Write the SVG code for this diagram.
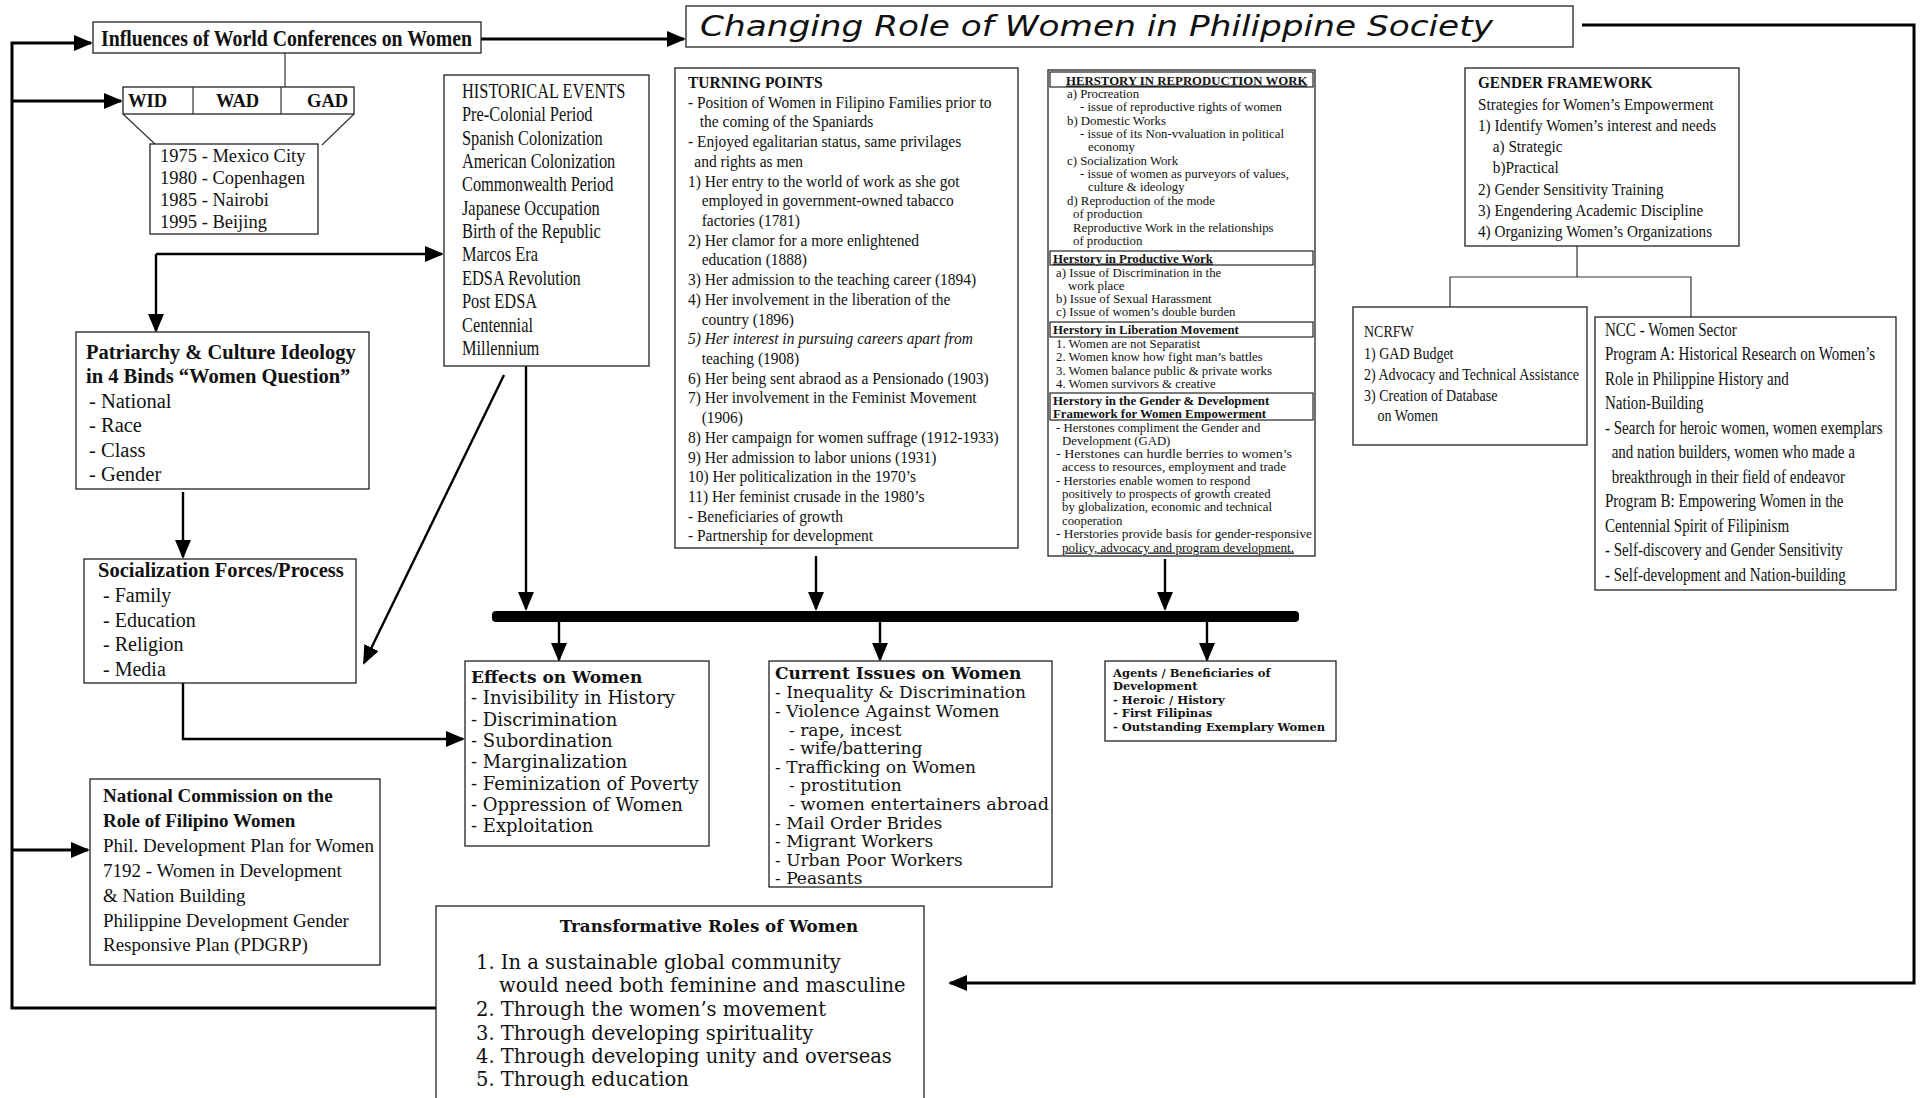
<svg xmlns="http://www.w3.org/2000/svg" width="1927" height="1098" viewBox="0 0 1927 1098">
<defs>
<marker id="ah" viewBox="0 0 10 10" refX="9" refY="5" markerWidth="19" markerHeight="16" orient="auto" markerUnits="userSpaceOnUse" preserveAspectRatio="none">
<path d="M0,0 L10,5 L0,10 z" fill="#000"/>
</marker>
<style>
.box{fill:#fff;stroke:#222;stroke-width:1.3}
.sub{fill:none;stroke:#222;stroke-width:1.2}
.t{font-family:"Liberation Serif","Times New Roman",serif;fill:#111}
.c{font-family:"DejaVu Serif",serif;fill:#111}
.b{font-weight:bold}
.i{font-style:italic}
.thick{fill:none;stroke:#000;stroke-width:3}
.mid{fill:none;stroke:#000;stroke-width:2.4}
.thin{fill:none;stroke:#333;stroke-width:1.2}
</style>
</defs>
<rect width="1927" height="1098" fill="#fff"/>

<g id="connectors">
<path class="thick" d="M436 1008 H12 V43 H91" marker-end="url(#ah)"/>
<path class="thick" d="M12 101 H121" marker-end="url(#ah)"/>
<path class="thick" d="M12 850 H88" marker-end="url(#ah)"/>
<path class="thick" d="M1582 25 H1914 V983 H950" marker-end="url(#ah)"/>
<path class="thick" d="M481 39 H684" marker-end="url(#ah)"/>
<path class="thin" d="M285 53 V87"/>
<path class="thin" d="M123 114 L156 145 M354 114 L322 145"/>
<path class="mid" d="M156 254 H442" marker-end="url(#ah)"/>
<path class="mid" d="M156 254 V331" marker-end="url(#ah)"/>
<path class="mid" d="M183 492 V557" marker-end="url(#ah)"/>
<path class="mid" d="M504 375 L364 663" marker-end="url(#ah)"/>
<path class="mid" d="M526 366 V609" marker-end="url(#ah)"/>
<path class="mid" d="M183 683 V739 H463" marker-end="url(#ah)"/>
<path class="mid" d="M816 556 V609" marker-end="url(#ah)"/>
<path class="mid" d="M1165 559 V609" marker-end="url(#ah)"/>
<rect x="492" y="611" width="807" height="11" rx="4" fill="#000"/>
<path class="mid" d="M559 622 V660" marker-end="url(#ah)"/>
<path class="mid" d="M880 622 V660" marker-end="url(#ah)"/>
<path class="mid" d="M1207 622 V660" marker-end="url(#ah)"/>
<path class="thin" d="M1577 246 V277 M1450 307 V277 H1691 V317"/>
</g>

<g id="title">
<rect class="box" x="686" y="6" width="887" height="41"/>
<text x="700" y="36" font-family="'DejaVu Sans',sans-serif" font-style="italic" font-size="28" fill="#111" textLength="793" lengthAdjust="spacingAndGlyphs">Changing Role of Women in Philippine Society</text>
</g>

<g id="influences">
<rect class="box" x="93" y="22" width="388" height="31"/>
<text class="t b" x="101" y="46" font-size="23" textLength="371" lengthAdjust="spacingAndGlyphs">Influences of World Conferences on Women</text>
</g>

<g id="wid-wad-gad">
<rect class="box" x="123" y="87" width="231" height="27"/>
<path class="thin" d="M193 87 V114 M281 87 V114"/>
<text class="t b" font-size="18.5" y="107"><tspan x="128">WID</tspan><tspan x="216">WAD</tspan><tspan x="307">GAD</tspan></text>
</g>

<g id="conferences">
<rect class="box" x="150" y="144" width="168" height="90"/>
<text class="t" font-size="18.5"><tspan x="160" y="162">1975 - Mexico City</tspan><tspan x="160" y="184">1980 - Copenhagen</tspan><tspan x="160" y="206">1985 - Nairobi</tspan><tspan x="160" y="228">1995 - Beijing</tspan></text>
</g>

<g id="historical-events">
<rect class="box" x="444" y="75" width="205" height="291"/>
<g transform="translate(462 0) scale(0.82 1)">
<text class="t" font-size="20"><tspan x="0" y="98">HISTORICAL EVENTS</tspan><tspan x="0" y="121.4">Pre-Colonial Period</tspan><tspan x="0" y="144.7">Spanish Colonization</tspan><tspan x="0" y="168.1">American Colonization</tspan><tspan x="0" y="191.4">Commonwealth Period</tspan><tspan x="0" y="214.8">Japanese Occupation</tspan><tspan x="0" y="238.2">Birth of the Republic</tspan><tspan x="0" y="261.5">Marcos Era</tspan><tspan x="0" y="284.9">EDSA Revolution</tspan><tspan x="0" y="308.2">Post EDSA</tspan><tspan x="0" y="331.6">Centennial</tspan><tspan x="0" y="355">Millennium</tspan></text>
</g>
</g>

<g id="patriarchy">
<rect class="box" x="76" y="332" width="293" height="157"/>
<text class="t" font-size="20.5"><tspan class="b" x="86" y="359">Patriarchy &amp; Culture Ideology</tspan><tspan class="b" x="86" y="383">in 4 Binds “Women Question”</tspan><tspan x="89" y="408">- National</tspan><tspan x="89" y="432">- Race</tspan><tspan x="89" y="457">- Class</tspan><tspan x="89" y="481">- Gender</tspan></text>
</g>

<g id="socialization">
<rect class="box" x="84" y="559" width="272" height="124"/>
<text class="t" font-size="20"><tspan class="b" x="98" y="577" font-size="20.5">Socialization Forces/Process</tspan><tspan x="103" y="602">- Family</tspan><tspan x="103" y="627">- Education</tspan><tspan x="103" y="651">- Religion</tspan><tspan x="103" y="676">- Media</tspan></text>
</g>

<g id="ncrfw-commission">
<rect class="box" x="90" y="779" width="290" height="186"/>
<text class="t" font-size="19"><tspan class="b" x="103" y="802">National Commission on the</tspan><tspan class="b" x="103" y="827">Role of Filipino Women</tspan><tspan x="103" y="852">Phil. Development Plan for Women</tspan><tspan x="103" y="877">7192 - Women in Development</tspan><tspan x="103" y="902">&amp; Nation Building</tspan><tspan x="103" y="927">Philippine Development Gender</tspan><tspan x="103" y="951">Responsive Plan (PDGRP)</tspan></text>
</g>

<g id="turning-points">
<rect class="box" x="675" y="68" width="343" height="480"/>
<g transform="translate(688 0) scale(0.91 1)">
<text class="t" font-size="17"><tspan class="b" x="0" y="88">TURNING POINTS</tspan><tspan x="0" y="107.7">- Position of Women in Filipino Families prior to</tspan><tspan x="13" y="127.4">the coming of the Spaniards</tspan><tspan x="0" y="147.2">- Enjoyed egalitarian status, same privilages</tspan><tspan x="7" y="166.9">and rights as men</tspan><tspan x="0" y="186.6">1) Her entry to the world of work as she got</tspan><tspan x="15" y="206.3">employed in government-owned tabacco</tspan><tspan x="15" y="226">factories (1781)</tspan><tspan x="0" y="245.8">2) Her clamor for a more enlightened</tspan><tspan x="15" y="265.5">education (1888)</tspan><tspan x="0" y="285.2">3) Her admission to the teaching career (1894)</tspan><tspan x="0" y="304.9">4) Her involvement in the liberation of the</tspan><tspan x="15" y="324.6">country (1896)</tspan><tspan class="i" x="0" y="344.4">5) Her interest in pursuing careers apart from</tspan><tspan x="15" y="364.1">teaching  (1908)</tspan><tspan x="0" y="383.8">6) Her being sent abraod as a Pensionado (1903)</tspan><tspan x="0" y="403.5">7) Her involvement in the Feminist Movement</tspan><tspan x="15" y="423.2">(1906)</tspan><tspan x="0" y="443">8) Her campaign for women suffrage (1912-1933)</tspan><tspan x="0" y="462.7">9) Her admission to labor unions (1931)</tspan><tspan x="0" y="482.4">10) Her politicalization in the 1970’s</tspan><tspan x="0" y="502.1">11) Her feminist crusade in the 1980’s</tspan><tspan x="0" y="521.8">- Beneficiaries of growth</tspan><tspan x="0" y="541.5">- Partnership for development</tspan></text>
</g>
</g>

<g id="herstory">
<rect class="box" x="1048" y="70" width="267" height="486"/>
<rect class="sub" x="1050" y="72" width="263" height="15"/>
<rect class="sub" x="1050" y="251" width="263" height="14"/>
<rect class="sub" x="1050" y="322" width="263" height="15"/>
<rect class="sub" x="1050" y="393" width="263" height="27"/>
<text class="t" font-size="12.8"><tspan class="b" x="1066" y="84.5" text-decoration="underline">HERSTORY IN REPRODUCTION WORK</tspan><tspan x="1067" y="97.5">a) Procreation</tspan><tspan x="1080" y="111">- issue of reproductive rights of women</tspan><tspan x="1067" y="124.5">b) Domestic Works</tspan><tspan x="1080" y="138">- issue of its Non-vvaluation in political</tspan><tspan x="1088" y="151">economy</tspan><tspan x="1067" y="164.5">c) Socialization Work</tspan><tspan x="1080" y="178">- issue of women as purveyors of values,</tspan><tspan x="1088" y="191">culture &amp; ideology</tspan><tspan x="1067" y="204.5">d) Reproduction of the mode</tspan><tspan x="1073" y="218">of  production</tspan><tspan x="1073" y="231.5">Reproductive Work in the relationships</tspan><tspan x="1073" y="245">of production</tspan><tspan class="b" x="1053" y="262.5" text-decoration="underline">Herstory in Productive Work</tspan><tspan x="1056" y="276.5">a) Issue of Discrimination  in the</tspan><tspan x="1068" y="289.5">work place</tspan><tspan x="1056" y="302.5">b) Issue of Sexual Harassment</tspan><tspan x="1056" y="316">c) Issue of women’s double burden</tspan><tspan class="b" x="1053" y="334">Herstory in Liberation Movement</tspan><tspan x="1056" y="348">1. Women are not Separatist</tspan><tspan x="1056" y="361">2. Women know  how fight man’s battles</tspan><tspan x="1056" y="374.5">3. Women balance public &amp; private works</tspan><tspan x="1056" y="388">4. Women survivors &amp; creative</tspan><tspan class="b" x="1053" y="405">Herstory in the Gender &amp; Development</tspan><tspan class="b" x="1053" y="418">Framework for Women Empowerment</tspan><tspan x="1056" y="431.5">- Herstones compliment  the Gender and</tspan><tspan x="1062" y="444.5">Development (GAD)</tspan><tspan x="1056" y="458" textLength="236" lengthAdjust="spacingAndGlyphs">- Herstones can hurdle berries to women’s</tspan><tspan x="1062" y="471" textLength="224" lengthAdjust="spacingAndGlyphs">access to resources, employment and trade</tspan><tspan x="1056" y="484.5">- Herstories enable women to respond</tspan><tspan x="1062" y="498">positively to prospects of growth created</tspan><tspan x="1062" y="511">by globalization, economic and technical</tspan><tspan x="1062" y="524.5">cooperation</tspan><tspan x="1056" y="538" textLength="256" lengthAdjust="spacingAndGlyphs">- Herstories provide basis for gender-responsive</tspan><tspan x="1062" y="551.5" textLength="232" lengthAdjust="spacingAndGlyphs" text-decoration="underline">policy, advocacy and program development.</tspan></text>
</g>

<g id="gender-framework">
<rect class="box" x="1465" y="68" width="274" height="178"/>
<g transform="translate(1478 0) scale(0.87 1)">
<text class="t" font-size="17.5"><tspan class="b" x="0" y="88">GENDER FRAMEWORK</tspan><tspan x="0" y="110">Strategies for Women’s Empowerment</tspan><tspan x="0" y="131">1) Identify Women’s interest and  needs</tspan><tspan x="17" y="152">a) Strategic</tspan><tspan x="17" y="173">b)Practical</tspan><tspan x="0" y="195">2) Gender Sensitivity Training</tspan><tspan x="0" y="216">3) Engendering Academic Discipline</tspan><tspan x="0" y="237">4) Organizing Women’s Organizations</tspan></text>
</g>
</g>

<g id="ncrfw">
<rect class="box" x="1353" y="307" width="234" height="138"/>
<g transform="translate(1364 0) scale(0.85 1)">
<text class="t" font-size="16.5"><tspan x="0" y="337">NCRFW</tspan><tspan x="0" y="359">1) GAD Budget</tspan><tspan x="0" y="380">2) Advocacy  and Technical  Assistance</tspan><tspan x="0" y="401">3) Creation of  Database</tspan><tspan x="16" y="421">on Women</tspan></text>
</g>
</g>

<g id="ncc">
<rect class="box" x="1595" y="317" width="301" height="273"/>
<g transform="translate(1605 0) scale(0.835 1)">
<text class="t" font-size="18"><tspan x="0" y="336">NCC - Women Sector</tspan><tspan x="0" y="360">Program A: Historical Research on Women’s</tspan><tspan x="0" y="385">Role in Philippine History and</tspan><tspan x="0" y="409">Nation-Building</tspan><tspan x="0" y="434">- Search  for heroic women, women exemplars</tspan><tspan x="8" y="458">and nation builders, women who made a</tspan><tspan x="8" y="483">breakthrough in their field of endeavor</tspan><tspan x="0" y="507">Program B: Empowering Women in the</tspan><tspan x="0" y="532">Centennial Spirit of Filipinism</tspan><tspan x="0" y="556">- Self-discovery and Gender Sensitivity</tspan><tspan x="0" y="581">- Self-development and Nation-building</tspan></text>
</g>
</g>

<g id="effects">
<rect class="box" x="465" y="661" width="244" height="185"/>
<text class="c" font-size="18"><tspan class="b" x="471" y="683" font-size="17">Effects on Women</tspan><tspan x="471" y="704">- Invisibility in History</tspan><tspan x="471" y="726">- Discrimination</tspan><tspan x="471" y="747">- Subordination</tspan><tspan x="471" y="768">- Marginalization</tspan><tspan x="471" y="790">- Feminization of Poverty</tspan><tspan x="471" y="811">- Oppression of Women</tspan><tspan x="471" y="832">- Exploitation</tspan></text>
</g>

<g id="current-issues">
<rect class="box" x="769" y="661" width="283" height="226"/>
<text class="c" font-size="17"><tspan class="b" x="775" y="679">Current Issues on Women</tspan><tspan x="775" y="698">- Inequality &amp; Discrimination</tspan><tspan x="775" y="717">- Violence Against Women</tspan><tspan x="789" y="736">- rape, incest</tspan><tspan x="789" y="754">- wife/battering</tspan><tspan x="775" y="773">- Trafficking on Women</tspan><tspan x="789" y="791">- prostitution</tspan><tspan x="789" y="810" textLength="260" lengthAdjust="spacingAndGlyphs">- women entertainers abroad</tspan><tspan x="775" y="829">- Mail Order Brides</tspan><tspan x="775" y="847">- Migrant Workers</tspan><tspan x="775" y="866">- Urban Poor Workers</tspan><tspan x="775" y="884">- Peasants</tspan></text>
</g>

<g id="agents">
<rect class="box" x="1105" y="661" width="231" height="80"/>
<text class="c b" font-size="11.5"><tspan x="1113" y="677">Agents / Beneficiaries of</tspan><tspan x="1113" y="690">Development</tspan><tspan x="1113" y="704">- Heroic / History</tspan><tspan x="1113" y="717">- First Filipinas</tspan><tspan x="1113" y="731">- Outstanding Exemplary Women</tspan></text>
</g>

<g id="transformative">
<rect class="box" x="436" y="906" width="488" height="200"/>
<text class="c b" x="709" y="932" font-size="16.7" text-anchor="middle">Transformative Roles of Women</text>
<text class="c" font-size="19.5"><tspan x="476" y="969">1. In a sustainable global community</tspan><tspan x="499" y="992">would need both feminine and masculine</tspan><tspan x="476" y="1016">2. Through the women’s movement</tspan><tspan x="476" y="1040">3. Through developing spirituality</tspan><tspan x="476" y="1063">4. Through developing unity and overseas</tspan><tspan x="476" y="1086">5. Through education</tspan></text>
</g>
</svg>
